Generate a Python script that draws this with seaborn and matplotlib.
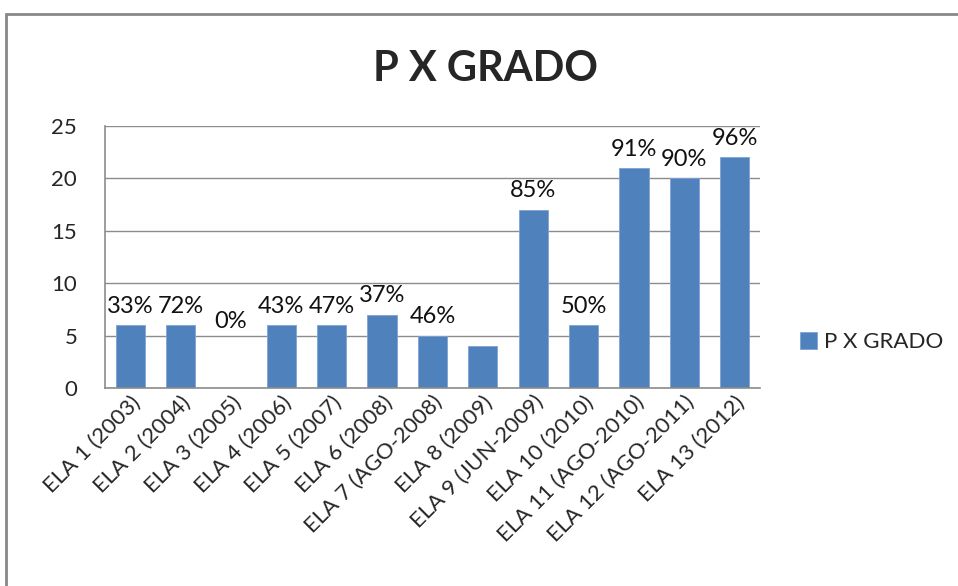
import matplotlib
matplotlib.use("Agg")
import matplotlib.pyplot as plt
from matplotlib.patches import Rectangle
import seaborn as sns

# datos del grafico
categorias = ["ELA 1 (2003)", "ELA 2 (2004)", "ELA 3 (2005)", "ELA 4 (2006)",
              "ELA 5 (2007)", "ELA 6 (2008)", "ELA 7 (AGO-2008)", "ELA 8 (2009)",
              "ELA 9 (JUN-2009)", "ELA 10 (2010)", "ELA 11 (AGO-2010)",
              "ELA 12 (AGO-2011)", "ELA 13 (2012)"]
valores = [6, 6, 0, 6, 6, 7, 5, 4, 17, 6, 21, 20, 22]
porcentajes = ["33%", "72%", "0%", "43%", "47%", "37%", "46%", "",
               "85%", "50%", "91%", "90%", "96%"]
serie = "P X GRADO"

sns.set_theme(style="white")
plt.rcParams["font.family"] = ["Lato", "DejaVu Sans"]

fig = plt.figure(figsize=(9.58, 5.86), dpi=100)
ax = fig.add_axes([0.1096, 0.338, 0.6837, 0.447])

sns.barplot(x=categorias, y=valores, color="#4F81BD", saturation=1,
            width=0.58, label=serie, ax=ax, edgecolor="#7FA3D4", linewidth=0.6)

# etiquetas de porcentaje; la de valor cero va mas arriba, como en Excel
normales = [p if v > 0 else "" for p, v in zip(porcentajes, valores)]
ceros = [p if v == 0 else "" for p, v in zip(porcentajes, valores)]
ax.bar_label(ax.containers[0], labels=normales, fontsize=17, padding=6,
             color="#111111")
ax.bar_label(ax.containers[0], labels=ceros, fontsize=17, padding=40,
             color="#111111")

ax.set_ylim(0, 25)
ax.set_yticks([0, 5, 10, 15, 20, 25])
ax.yaxis.grid(True, color="#8C8C8C", linewidth=1)
ax.set_axisbelow(True)
ax.tick_params(axis="y", labelsize=16, pad=20, length=0)
ax.tick_params(axis="x", labelsize=16, length=0, pad=3)
plt.setp(ax.get_xticklabels(), rotation=45, ha="right", rotation_mode="anchor")
ax.set_xlabel("")
ax.set_ylabel("")

for lado in ["top", "right"]:
    ax.spines[lado].set_visible(False)
for lado in ["left", "bottom"]:
    ax.spines[lado].set_color("#8C8C8C")
    ax.spines[lado].set_linewidth(1.2)

fig.text(0.507, 0.883, "P X GRADO", ha="center", va="center",
         fontsize=30, fontweight="bold")

leg = ax.legend(loc="center left", bbox_to_anchor=(1.03, 0.175), frameon=False,
                fontsize=16, handlelength=0.8, handleheight=0.8,
                handletextpad=0.3)

# marco exterior del grafico
fig.patches.append(Rectangle((0.006, -0.1), 1.2, 1.076, transform=fig.transFigure,
                             fill=False, edgecolor="#888888", linewidth=2))

fig.savefig("out.png", dpi=100)
